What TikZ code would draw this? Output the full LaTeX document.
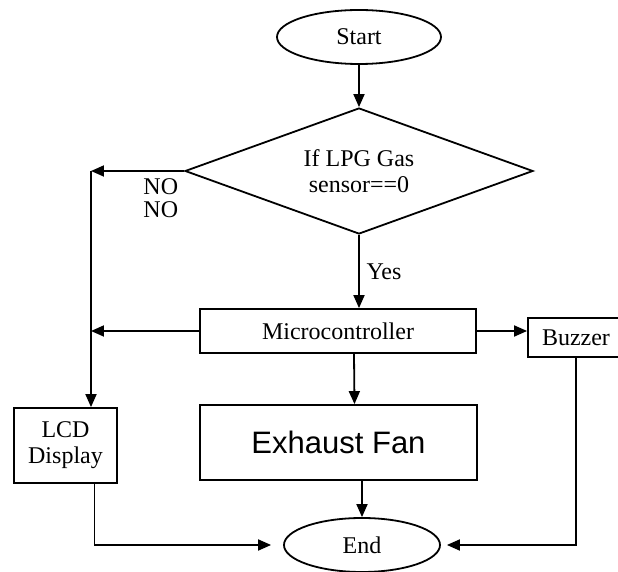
\documentclass[tikz,border=0pt]{standalone}
\usepackage{fontspec}
\setmainfont{Liberation Serif}
\newfontfamily\fanfont{Liberation Sans}
\usetikzlibrary{shapes.geometric,arrows.meta}

\begin{document}
\begin{tikzpicture}[x=0.5pt,y=-0.5pt,line width=0.9pt,
    font=\fontsize{12}{13}\selectfont,
    >={Triangle[length=6.5pt,width=5.5pt]},
    box/.style={draw, rectangle, inner sep=2pt},
    oval/.style={draw, ellipse, minimum height=27pt}]
    \useasboundingbox (0,0) rectangle (618,572);
    % Nodes
    \node[oval, minimum width=82pt] (start) at (359,37) {Start};
    \node[draw, diamond, aspect=2.8, minimum width=174pt, minimum height=63pt, inner sep=0pt, align=center] (cond) at (359,171) {If LPG Gas\\sensor==0};
    \node[box, minimum width=138pt, minimum height=22pt] (micro) at (338,331) {Microcontroller};
    \node[box, minimum width=48pt, minimum height=19.5pt] (buzzer) at (576,337.5) {Buzzer};
    \node[box, minimum width=138.5pt, minimum height=37.5pt, font=\fanfont\fontsize{15.5}{17}\selectfont] (fan) at (338.5,442.5) {Exhaust Fan};
    \node[box, minimum width=51.5pt, minimum height=37.5pt, align=center] (lcd) at (65.5,445.5) {LCD\\Display};
    \node[oval, minimum width=78pt] (stop) at (362,545) {End};
    \coordinate (nojunc) at (91,171);

    % Edges
    \draw[->] (start) -- (cond);
    \draw[->] (cond.west) -- node[pos=0.25, below, align=center, font=\fontsize{12}{11.5}\selectfont] {NO\\NO} (nojunc);
    \draw[->] (nojunc) -- (nojunc |- lcd.north);
    \draw[->] (cond.south) -- node[right] {Yes} (cond.south |- micro.north);
    \draw[->] (micro.west) -- (micro.west -| nojunc);
    \draw[->] (micro.east) -- (micro.east -| buzzer.west);
    \draw[->] ([xshift=8pt]micro.south) -- ([xshift=8pt]fan.north);
    \draw[->] (fan.south -| stop.north) -- (stop.north);
    \draw[->] ([xshift=14.5pt]lcd.south) |- ([xshift=-6pt]stop.west);
    \draw[->] (buzzer.south) |- ([xshift=3pt]stop.east);
\end{tikzpicture}
\end{document}
